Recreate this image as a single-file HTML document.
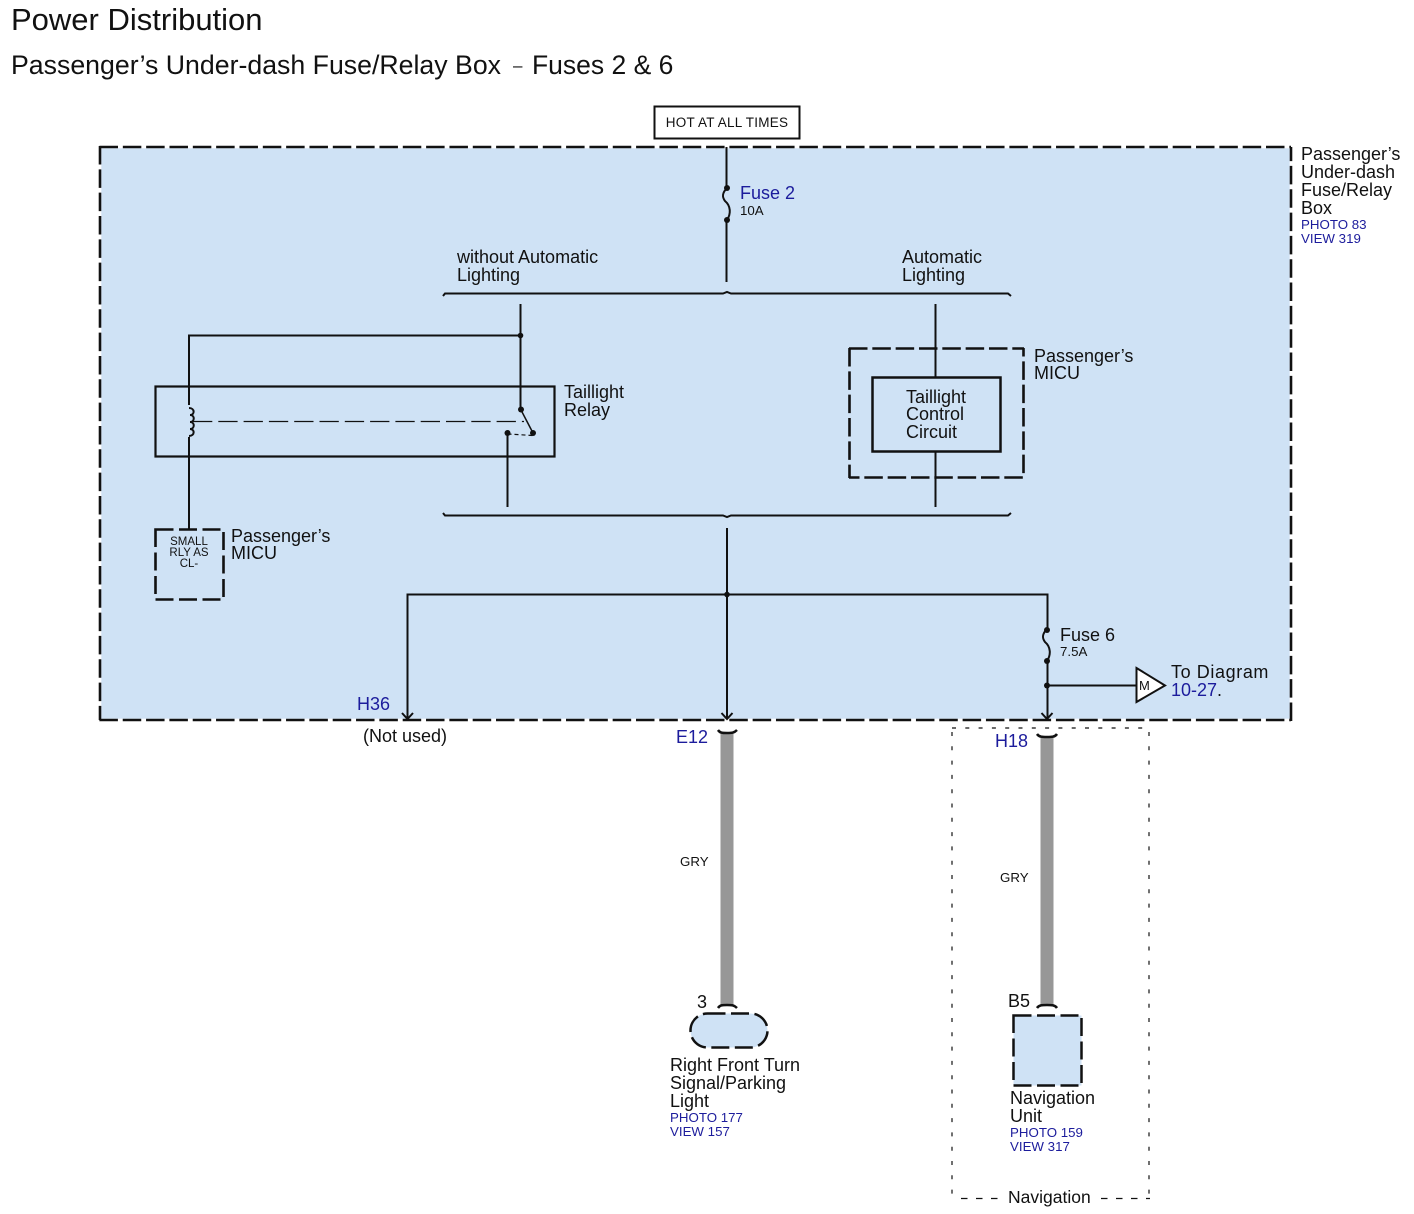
<!DOCTYPE html>
<html><head><meta charset="utf-8"><style>
html,body{margin:0;padding:0;background:#fff}
svg{display:block}
text{font-family:"Liberation Sans",sans-serif;fill:#111}
.b{fill:#1c1c9c}
.s{font-size:18px}
.x{font-size:13.300px}
.bl{fill:none;stroke:#111;stroke-width:2}
.d{fill:#111;stroke:none}
.dash{stroke:#111;stroke-width:2.600;stroke-dasharray:18.500 4.830;fill:none}
.halo{stroke:#fff;stroke-width:2.600;fill:none}
.nav{fill:none;stroke:#111;stroke-width:1.200}
</style></head><body>
<svg width="1414" height="1214" viewBox="0 0 1414 1214" xmlns="http://www.w3.org/2000/svg">
<rect width="1414" height="1214" fill="#fff"/>
<text x="11" y="30" font-size="31">Power Distribution</text>
<text x="11" y="74" font-size="26.700">Passenger’s Under-dash Fuse/Relay Box</text>
<text x="513" y="71" font-size="17">–</text>
<text x="532" y="74" font-size="26.500">Fuses 2 &amp; 6</text>

<rect x="100" y="147" width="1191" height="573" fill="#cfe2f5"/>
<rect x="100" y="147" width="1191" height="573" class="halo"/>
<path class="dash" d="M99.500 147H1291"/>
<path class="dash" d="M100 146V720"/>
<path class="dash" d="M99.400 720H1291"/>
<path class="dash" d="M1291 721V147"/>

<rect x="654.500" y="106.500" width="145" height="32" fill="#fff" stroke="#111" stroke-width="2"/>
<text x="727" y="127" font-size="13.500" text-anchor="middle" letter-spacing=".25">HOT AT ALL TIMES</text>

<!-- right labels -->
<text class="s" x="1301" y="160">Passenger’s</text>
<text class="s" x="1301" y="178">Under-dash</text>
<text class="s" x="1301" y="196">Fuse/Relay</text>
<text class="s" x="1301" y="214">Box</text>
<text class="x b" x="1301" y="229">PHOTO 83</text>
<text class="x b" x="1301" y="243">VIEW 319</text>

<!-- fuse 2 -->
<path class="bl" d="M726.500 147V188M726.500 220V282"/>
<path class="bl" d="M727 188C722 193 722 197 725 201C731 206 731 214 727 220"/>
<circle class="d" cx="727" cy="188" r="3"/><circle class="d" cx="727" cy="220" r="3"/>
<text class="s b" x="740" y="199">Fuse 2</text>
<text class="x" x="740" y="215">10A</text>

<text class="s" x="457" y="263">without Automatic</text>
<text class="s" x="457" y="281">Lighting</text>
<text class="s" x="902" y="263">Automatic</text>
<text class="s" x="902" y="281">Lighting</text>

<!-- top bracket -->
<path class="bl" d="M443 296L445 293.500H723L727 292L731 293.500H1008L1011 296"/>
<!-- bottom bracket -->
<path class="bl" d="M443 513L445 515.500H723L727 517L731 515.500H1008L1011 513"/>

<!-- left circuit -->
<path class="bl" d="M520.500 304V409M520.500 335.500H189V405M189 437V529"/>
<circle class="d" cx="520.500" cy="335.500" r="2.800"/>
<rect x="155.500" y="386.500" width="399" height="70" fill="none" stroke="#111" stroke-width="2.200"/>
<path class="bl" d="M189 408C195 408 195 415 190 415C195 415 195 422 190 422C195 422 195 429 190 429C195 429 195 436 189 436"/>
<path d="M193 421.500H524" fill="none" stroke="#111" stroke-width="1.300" stroke-dasharray="19.300 6"/>
<path d="M521 410L533 433" fill="none" stroke="#111" stroke-width="1.500"/>
<path d="M507.500 434L533 435.500" fill="none" stroke="#111" stroke-width="1.200" stroke-dasharray="4 3"/>
<circle class="d" cx="521" cy="409.500" r="3"/><circle class="d" cx="533" cy="433" r="3"/><circle class="d" cx="507.500" cy="433" r="3"/>
<path class="bl" d="M507.500 433V507"/>
<text class="s" x="564" y="398">Taillight</text>
<text class="s" x="564" y="416">Relay</text>

<rect x="155.500" y="529.500" width="68" height="70" class="dash" style="stroke-dasharray:18 5.500"/>
<text x="189" y="545" font-size="11.500" text-anchor="middle">SMALL</text>
<text x="189" y="556" font-size="11.500" text-anchor="middle">RLY AS</text>
<text x="189" y="567" font-size="11.500" text-anchor="middle">CL-</text>
<text class="s" x="231" y="542">Passenger’s</text>
<text class="s" x="231" y="559">MICU</text>

<!-- right circuit -->
<path class="bl" d="M935.500 304V377M935.500 451V507"/>
<path class="dash" d="M849 348.500H1024"/>
<path class="dash" d="M849.500 348V478"/>
<path class="dash" style="stroke-dashoffset:8" d="M849 477.500H1024"/>
<path class="dash" style="stroke-dashoffset:10" d="M1023.500 348V478"/>
<rect x="872.500" y="377.500" width="128" height="74" fill="none" stroke="#111" stroke-width="2.500"/>
<text class="s" x="906" y="403">Taillight</text>
<text class="s" x="906" y="420">Control</text>
<text class="s" x="906" y="438">Circuit</text>
<text class="s" x="1034" y="362">Passenger’s</text>
<text class="s" x="1034" y="379">MICU</text>

<!-- bus -->
<path class="bl" d="M727 528V718M407.500 718V594.500H1047.500V629M1047.500 661V718"/>
<circle class="d" cx="727" cy="594.500" r="2.800"/>
<path class="bl" d="M402 713L407.500 719L413 713M721.500 713L727 719L732.500 713M1041.500 713L1047 719L1052.500 713"/>

<!-- fuse 6 -->
<path class="bl" d="M1047 629C1042 634 1042 638 1045 642C1051 647 1051 655 1047 661"/>
<circle class="d" cx="1047" cy="630" r="3"/><circle class="d" cx="1047" cy="661" r="3"/><circle class="d" cx="1047" cy="685.500" r="3"/>
<text class="s" x="1060" y="641">Fuse 6</text>
<text class="x" x="1060" y="656">7.5A</text>
<path class="bl" d="M1047 685.500H1136"/>
<path d="M1136.500 668L1165 685.500L1136.500 702Z" fill="#fff" stroke="#111" stroke-width="2"/>
<text x="1139" y="690" font-size="13">M</text>
<text class="s" x="1171" y="678" letter-spacing=".6">To Diagram</text>
<text class="s b" x="1171" y="696">10-27<tspan fill="#111">.</tspan></text>

<text class="s b" x="357" y="710">H36</text>
<text class="s" x="363" y="742">(Not used)</text>
<text class="s b" x="676" y="743">E12</text>
<text class="s b" x="995" y="747">H18</text>

<!-- wires -->
<rect x="720.500" y="734" width="13" height="272" fill="#979797"/>
<rect x="1040.500" y="738" width="13" height="268" fill="#979797"/>
<path d="M718 730C720 733 722 733 727 733C732 733 734 733 737 730M1037 734C1039 737 1042 737 1047 737C1052 737 1055 737 1057 734M718 1008C720 1005 722 1005 727 1005C732 1005 734 1005 737 1008M1037 1008C1039 1005 1042 1005 1047 1005C1052 1005 1055 1005 1057 1008" fill="none" stroke="#111" stroke-width="2.500"/>
<text class="x" x="680" y="866">GRY</text>
<text class="x" x="1000" y="882">GRY</text>

<text class="s" x="697" y="1008">3</text>
<rect x="690.500" y="1013.500" width="77" height="34" rx="17" fill="#cfe2f5" stroke="#111" stroke-width="2.500" stroke-dasharray="18 5.500"/>
<text class="s" x="670" y="1071">Right Front Turn</text>
<text class="s" x="670" y="1089">Signal/Parking</text>
<text class="s" x="670" y="1107">Light</text>
<text class="x b" x="670" y="1122">PHOTO 177</text>
<text class="x b" x="670" y="1136">VIEW 157</text>

<text class="s" x="1008" y="1007">B5</text>
<rect x="1013.500" y="1015.500" width="68" height="70" fill="#cfe2f5" stroke="#111" stroke-width="2.500" stroke-dasharray="18 5.500"/>
<text class="s" x="1010" y="1104">Navigation</text>
<text class="s" x="1010" y="1122">Unit</text>
<text class="x b" x="1010" y="1137">PHOTO 159</text>
<text class="x b" x="1010" y="1151">VIEW 317</text>

<!-- navigation box -->
<path class="nav" stroke-dasharray="4 9.300" d="M952 728H1149"/>
<path class="nav" stroke-dasharray="4 10.300" d="M952 732V1198"/>
<path class="nav" stroke-dasharray="4 10.300" d="M1149 732V1198"/>
<path class="nav" stroke-dasharray="6.500 8.500" d="M961 1198.500H1000M1101 1198.500H1150"/>
<text x="1008" y="1203" font-size="17.500">Navigation</text>
</svg>
</body></html>
